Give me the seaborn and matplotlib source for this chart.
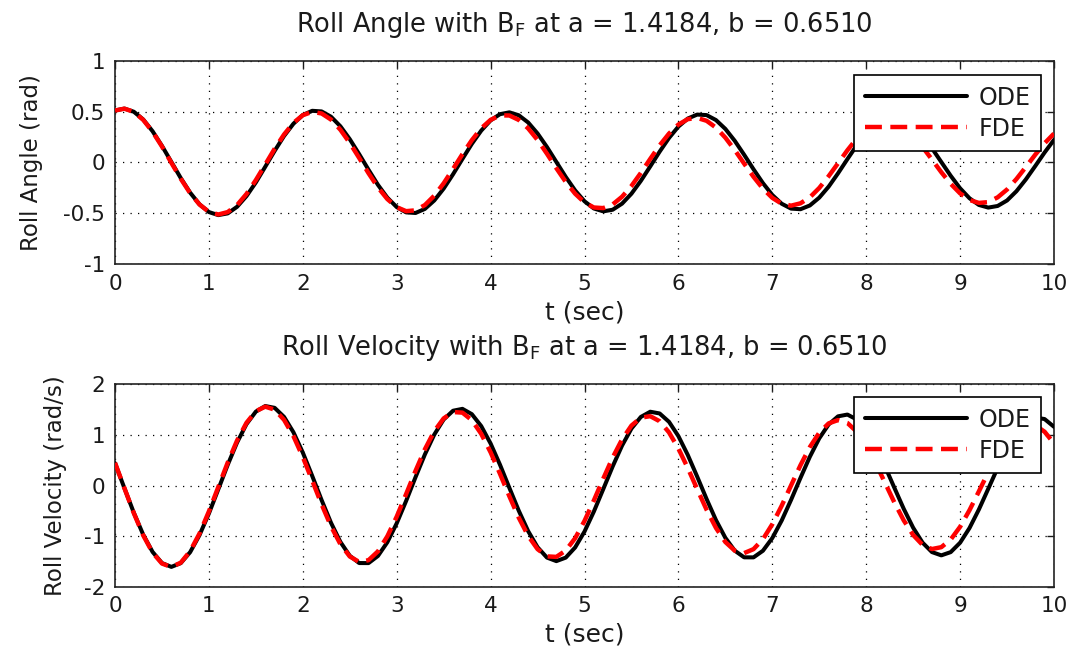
import numpy as np
import pandas as pd
import matplotlib
matplotlib.use("Agg")
import matplotlib.pyplot as plt
import seaborn as sns

# ---------------- data ----------------
t = np.linspace(0, 10, 101)  # sampling grid, 0.1 s

roll_angle_ode = [
    0.510, 0.529, 0.498, 0.422, 0.306, 0.162, 0.004, -0.154, -0.298, -0.413,
    -0.489, -0.519, -0.502, -0.437, -0.332, -0.197, -0.043, 0.113, 0.259, 0.380,
    0.466, 0.507, 0.501, 0.449, 0.355, 0.228, 0.081, -0.073, -0.221, -0.347,
    -0.440, -0.492, -0.498, -0.458, -0.375, -0.258, -0.117, 0.034, 0.182, 0.312,
    0.413, 0.474, 0.492, 0.463, 0.392, 0.284, 0.151, 0.004, -0.143, -0.276,
    -0.383, -0.454, -0.482, -0.466, -0.406, -0.308, -0.182, -0.040, 0.105, 0.240,
    0.352, 0.431, 0.470, 0.465, 0.416, 0.329, 0.212, 0.075, -0.068, -0.204,
    -0.321, -0.407, -0.455, -0.461, -0.424, -0.347, -0.239, -0.108, 0.032, 0.168,
    0.288, 0.381, 0.438, 0.454, 0.428, 0.362, 0.263, 0.139, 0.003, -0.132,
    -0.255, -0.353, -0.419, -0.445, -0.429, -0.375, -0.284, -0.168, -0.037, 0.097,
    0.221,
]
roll_angle_fde = [
    0.510, 0.528, 0.497, 0.418, 0.301, 0.156, -0.004, -0.161, -0.303, -0.415,
    -0.487, -0.513, -0.489, -0.420, -0.311, -0.174, -0.021, 0.134, 0.274, 0.388,
    0.464, 0.497, 0.481, 0.421, 0.321, 0.191, 0.044, -0.107, -0.246, -0.361,
    -0.441, -0.480, -0.472, -0.420, -0.328, -0.206, -0.065, 0.081, 0.218, 0.335,
    0.418, 0.462, 0.461, 0.417, 0.334, 0.220, 0.085, -0.057, -0.192, -0.308,
    -0.395, -0.444, -0.450, -0.414, -0.338, -0.232, -0.104, 0.034, 0.167, 0.283,
    0.372, 0.425, 0.437, 0.409, 0.342, 0.243, 0.121, -0.012, -0.142, -0.258,
    -0.349, -0.407, -0.426, -0.403, -0.344, -0.252, -0.136, -0.009, 0.119, 0.235,
    0.327, 0.388, 0.413, 0.398, 0.344, 0.260, 0.151, 0.028, -0.097, -0.211,
    -0.305, -0.370, -0.399, -0.391, -0.344, -0.267, -0.164, -0.046, 0.075, 0.188,
    0.283,
]
roll_vel_ode = [
    0.443, -0.050, -0.536, -0.970, -1.312, -1.532, -1.608, -1.534, -1.317, -0.979,
    -0.551, -0.073, 0.410, 0.853, 1.216, 1.464, 1.574, 1.538, 1.359, 1.055,
    0.653, 0.192, -0.286, -0.735, -1.114, -1.388, -1.532, -1.533, -1.392, -1.121,
    -0.746, -0.304, 0.165, 0.616, 1.009, 1.307, 1.481, 1.518, 1.413, 1.177,
    0.832, 0.412, -0.046, -0.498, -0.901, -1.219, -1.424, -1.494, -1.425, -1.224,
    -0.909, -0.512, -0.068, 0.380, 0.792, 1.128, 1.358, 1.461, 1.427, 1.261,
    0.978, 0.605, 0.178, -0.265, -0.682, -1.033, -1.287, -1.419, -1.420, -1.289,
    -1.038, -0.691, -0.282, 0.152, 0.571, 0.934, 1.209, 1.370, 1.405, 1.307,
    1.089, 0.769, 0.381, -0.043, -0.460, -0.833, -1.128, -1.315, -1.380, -1.316,
    -1.130, -0.840, -0.473, -0.063, 0.351, 0.731, 1.041, 1.253, 1.347, 1.316,
    1.163,
]
roll_vel_fde = [
    0.451, -0.051, -0.544, -0.983, -1.326, -1.542, -1.610, -1.525, -1.297, -0.947,
    -0.510, -0.027, 0.455, 0.892, 1.242, 1.472, 1.561, 1.502, 1.301, 0.979,
    0.565, 0.100, -0.371, -0.804, -1.158, -1.402, -1.510, -1.475, -1.301, -1.004,
    -0.614, -0.169, 0.289, 0.718, 1.076, 1.329, 1.455, 1.443, 1.294, 1.024,
    0.658, 0.233, -0.212, -0.635, -0.994, -1.257, -1.400, -1.410, -1.285, -1.041,
    -0.699, -0.292, 0.139, 0.555, 0.914, 1.187, 1.344, 1.373, 1.273, 1.052,
    0.733, 0.347, -0.070, -0.477, -0.837, -1.116, -1.287, -1.335, -1.257, -1.061,
    -0.764, -0.398, 0.004, 0.403, 0.762, 1.046, 1.230, 1.296, 1.239, 1.065,
    0.791, 0.444, 0.057, -0.333, -0.689, -0.977, -1.173, -1.255, -1.218, -1.067,
    -0.815, -0.487, -0.115, 0.265, 0.618, 0.910, 1.115, 1.213, 1.195, 1.065,
    0.834,
]

series_labels = ["ODE", "FDE"]
x_ticks = [0, 1, 2, 3, 4, 5, 6, 7, 8, 9, 10]
x_tick_labels = ["0", "1", "2", "3", "4", "5", "6", "7", "8", "9", "10"]
angle_ticks = [-1, -0.5, 0, 0.5, 1]
angle_tick_labels = ["-1", "-0.5", "0", "0.5", "1"]
vel_ticks = [-2, -1, 0, 1, 2]
vel_tick_labels = ["-2", "-1", "0", "1", "2"]

title_top = r"Roll Angle with B$_\mathregular{F}$ at a = 1.4184, b = 0.6510"
title_bot = r"Roll Velocity with B$_\mathregular{F}$ at a = 1.4184, b = 0.6510"
xlabel = "t (sec)"
ylabel_top = "Roll Angle (rad)"
ylabel_bot = "Roll Velocity (rad/s)"

# ---------------- styling ----------------
sns.set_theme(style="white")
plt.rcParams["font.family"] = ["DejaVu Sans"]
plt.rcParams["mathtext.fontset"] = "dejavusans"
TXT = "#1a1a1a"

fig = plt.figure(figsize=(10.72, 6.54), dpi=100)
fig.patch.set_facecolor("white")
ax1 = fig.add_axes([0.1073, 0.5963, 0.8759, 0.3109])
ax2 = fig.add_axes([0.1073, 0.1029, 0.8759, 0.3092])

panels = [
    (ax1, roll_angle_ode, roll_angle_fde, angle_ticks, angle_tick_labels, (-1, 1),
     title_top, ylabel_top, -0.0767, 0.9297),
    (ax2, roll_vel_ode, roll_vel_fde, vel_ticks, vel_tick_labels, (-2, 2),
     title_bot, ylabel_bot, -0.0511, 0.938),
]

for ax, ode, fde, yt, ytl, ylim, title, ylab, ylab_x, leg_y in panels:
    df = pd.DataFrame({"t": t, "ODE": ode, "FDE": fde})
    sns.lineplot(data=df, x="t", y="ODE", ax=ax, color="black", linewidth=2.9,
                 label=series_labels[0], zorder=3)
    sns.lineplot(data=df, x="t", y="FDE", ax=ax, color="red", linewidth=3.2,
                 label=series_labels[1], zorder=4)
    ax.lines[-1].set_dashes((3.8, 1.9))

    ax.set_xlim(0, 10)
    ax.set_ylim(*ylim)
    ax.set_xticks(x_ticks)
    ax.set_xticklabels(x_tick_labels)
    ax.set_yticks(yt)
    ax.set_yticklabels(ytl)
    ax.tick_params(direction="in", length=5, width=1, top=True, right=True,
                   labelsize=15.5, colors=TXT, pad=7)
    ax.grid(True, color="black", linestyle=(0, (1, 5)), linewidth=0.9)
    ax.set_axisbelow(True)
    for sp in ax.spines.values():
        sp.set_visible(True)
        sp.set_color("#222222")
        sp.set_linewidth(1.2)

    ax.set_title(title, fontsize=18.5, pad=21, color=TXT)
    ax.set_xlabel(xlabel, fontsize=18, color=TXT)
    ax.xaxis.set_label_coords(0.5, -0.177)
    ax.set_ylabel(ylab, fontsize=16.5, color=TXT)
    ax.yaxis.set_label_coords(ylab_x, 0.5)

    leg = ax.legend(loc="upper right", bbox_to_anchor=(0.9862, leg_y),
                    borderaxespad=0, fontsize=17, frameon=True, fancybox=False,
                    framealpha=1, edgecolor="black", handlelength=4.3,
                    handletextpad=0.5, borderpad=0.45, labelspacing=0.3)
    leg.get_frame().set_linewidth(1.2)
    for txt in leg.get_texts():
        txt.set_color(TXT)

fig.savefig("out.png", dpi=100, facecolor="white")
